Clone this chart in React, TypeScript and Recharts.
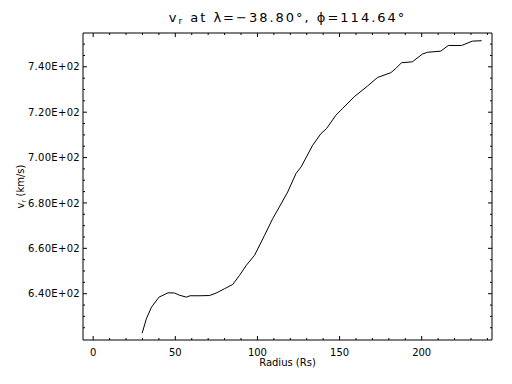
import React from 'react';
import { LineChart, Line, XAxis, YAxis } from 'recharts';

// Radius (Rs) sampled along the curve
const radius = [
  29.8, 32.4, 35.5, 40.1, 45.6, 49.6, 52.7, 56.7, 59.0, 65.0, 70.9, 74.9, 80.0,
  85.0, 89.1, 93.2, 98.2, 102.3, 104.3, 109.3, 113.0, 118.4, 123.5, 126.6, 133.6,
  138.7, 142.1, 147.8, 151.8, 158.9, 167.0, 173.1, 181.2, 184.3, 187.7, 194.3,
  200.4, 203.5, 211.6, 216.2, 224.3, 230.8, 236.5,
];
// v_r (km/s)
const velocity = [
  622.6, 629.0, 634.1, 638.5, 640.4, 640.3, 639.3, 638.5, 639.1, 639.1, 639.2, 640.3, 642.2,
  644.1, 648.1, 652.5, 656.9, 662.8, 665.7, 673.1, 677.8, 684.8, 693.0, 695.9, 705.4,
  710.6, 712.8, 718.7, 721.6, 726.8, 731.5, 735.3, 737.4, 739.3, 741.8, 742.2,
  745.6, 746.4, 746.9, 749.4, 749.4, 751.3, 751.5,
];

const xTicks = [0, 10, 20, 30, 40, 50, 60, 70, 80, 90, 100, 110, 120, 130, 140, 150, 160, 170, 180, 190, 200, 210, 220, 230, 240];
const xMajor = [0, 50, 100, 150, 200];
const yTicks = [625, 630, 635, 640, 645, 650, 655, 660, 665, 670, 675, 680, 685, 690, 695, 700, 705, 710, 715, 720, 725, 730, 735, 740, 745, 750];
const yMajor = [640, 660, 680, 700, 720, 740];

const xDomain: [number, number] = [-6.2, 242.8];
const yDomain: [number, number] = [619.6, 754.9];

const data = radius.map((r, i) => ({ r, v: velocity[i] }));

const FONT = 'DejaVu Sans';
const fmtY = (v: number) => (v / 100).toFixed(2) + 'E+02';

// Plot frame edges (layout constants)
const TOP = 33;
const BOTTOM = 340;
const LEFT = 83;
const RIGHT = 492;

const XTick = (side: 'top' | 'bottom') => (props: any) => {
  const { x, payload } = props;
  const v = payload.value;
  const major = xMajor.includes(v);
  const len = major ? 4 : 2;
  const y = side === 'bottom' ? BOTTOM : TOP;
  const dir = side === 'bottom' ? -1 : 1;
  return (
    <g>
      <line x1={x} x2={x} y1={y} y2={y + dir * len} stroke="#000" strokeWidth={1} />
      {side === 'bottom' && major && (
        <text x={x} y={y + 16} textAnchor="middle" fontFamily={FONT} fontSize={10} fill="#000">
          {v}
        </text>
      )}
    </g>
  );
};

const YTick = (side: 'left' | 'right') => (props: any) => {
  const { y, payload } = props;
  const v = payload.value;
  const major = yMajor.includes(v);
  const len = major ? 4 : 2;
  const x = side === 'left' ? LEFT : RIGHT;
  const dir = side === 'left' ? 1 : -1;
  return (
    <g>
      <line x1={x} x2={x + dir * len} y1={y} y2={y} stroke="#000" strokeWidth={1} />
      {side === 'left' && major && (
        <text x={x - 3} y={y + 3.6} textAnchor="end" fontFamily={FONT} fontSize={10} fill="#000" letterSpacing={0.3}>
          {fmtY(v)}
        </text>
      )}
    </g>
  );
};

const TitleLabel = () => {
  const cx = (LEFT + RIGHT) / 2;
  return (
    <text x={cx} y={TOP - 11} textAnchor="middle" fontFamily={FONT} fontSize={13} fill="#000" letterSpacing={2}>
      <tspan>v</tspan>
      <tspan fontSize={9} dy={2}>r</tspan>
      <tspan dy={-2}>{' at λ=−38.80°, ϕ=114.64°'}</tspan>
    </text>
  );
};

const YLabel = () => {
  const cy = (TOP + BOTTOM) / 2;
  const bx = 24;
  return (
    <text
      x={bx}
      y={cy}
      transform={`rotate(-90, ${bx}, ${cy})`}
      textAnchor="middle"
      fontFamily={FONT}
      fontSize={10}
      fill="#000"
    >
      <tspan>v</tspan>
      <tspan fontSize={7} dy={2}>r</tspan>
      <tspan dy={-2}>{' (km/s)'}</tspan>
    </text>
  );
};

const XLabel = () => {
  const cx = (LEFT + RIGHT) / 2;
  return (
    <text x={cx} y={BOTTOM + 26} textAnchor="middle" fontFamily={FONT} fontSize={10} fill="#000">
      Radius (Rs)
    </text>
  );
};

const axisLine = { stroke: '#000', strokeWidth: 1 } as any;

export default function App() {
  return (
    <div style={{ position: 'absolute', left: 0, top: 0, width: 512, height: 384, background: '#fff' }}>
      <LineChart width={512} height={384} data={data} margin={{ top: 32, right: 19, bottom: 43, left: 0 }}>
        <XAxis
          xAxisId="bottom"
          dataKey="r"
          type="number"
          orientation="bottom"
          domain={xDomain}
          ticks={xTicks}
          interval={0}
          allowDataOverflow
          height={1}
          tickSize={0}
          tickMargin={0}
          tickLine={false}
          axisLine={axisLine}
          tick={XTick('bottom')}
          label={<XLabel />}
        />
        <XAxis
          xAxisId="top"
          dataKey="r"
          type="number"
          orientation="top"
          domain={xDomain}
          ticks={xTicks}
          interval={0}
          allowDataOverflow
          height={1}
          tickSize={0}
          tickMargin={0}
          tickLine={false}
          axisLine={axisLine}
          tick={XTick('top')}
          label={<TitleLabel />}
        />
        <YAxis
          yAxisId="left"
          type="number"
          orientation="left"
          domain={yDomain}
          ticks={yTicks}
          interval={0}
          allowDataOverflow
          width={83}
          tickSize={0}
          tickMargin={0}
          tickLine={false}
          axisLine={axisLine}
          tick={YTick('left')}
          label={<YLabel />}
        />
        <YAxis
          yAxisId="right"
          type="number"
          orientation="right"
          domain={yDomain}
          ticks={yTicks}
          interval={0}
          allowDataOverflow
          width={1}
          tickSize={0}
          tickMargin={0}
          tickLine={false}
          axisLine={axisLine}
          tick={YTick('right')}
        />
        <Line
          xAxisId="bottom"
          yAxisId="left"
          dataKey="v"
          type="linear"
          stroke="#000"
          strokeWidth={1}
          dot={false}
          isAnimationActive={false}
        />
      </LineChart>
    </div>
  );
}
